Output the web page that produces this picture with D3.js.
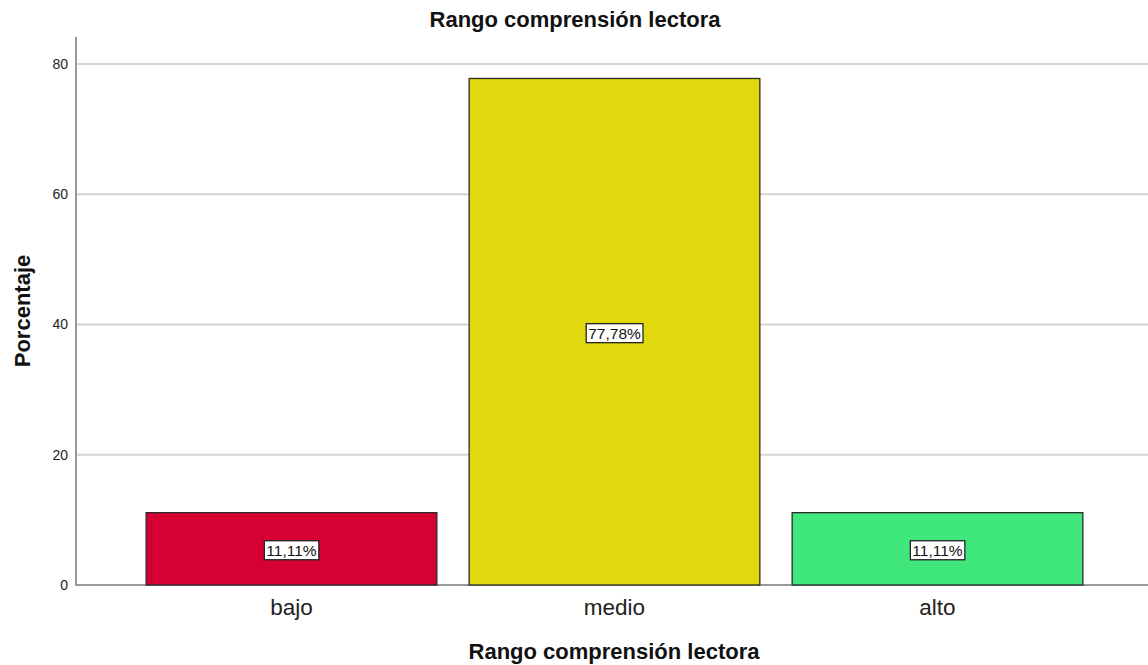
<!DOCTYPE html>
<html>
<head>
<meta charset="utf-8">
<script src="https://cdn.jsdelivr.net/npm/d3@7"></script>
<style>
  html, body { margin: 0; padding: 0; background: #fff; }
  svg { display: block; font-family: "Liberation Sans", Arial, sans-serif; }
</style>
</head>
<body>
<svg id="chart" width="1148" height="665"></svg>
<script>
// Percentage of students in each reading-comprehension range
const categories = ["bajo", "medio", "alto"];
const percentages = [11.11, 77.78, 11.11];
const barColors = ["#D70032", "#E1D80E", "#40E87C"];
const yTicks = [0, 20, 40, 60, 80];
const valueLabels = ["11,11%", "77,78%", "11,11%"];
const chartTitle = "Rango comprensión lectora";
const xTitle = "Rango comprensión lectora";
const yTitle = "Porcentaje";

const svg = d3.select("#chart");
const plot = { left: 76, right: 1148, top: 37, bottom: 585 };

const x = d3.scaleBand()
  .domain(categories)
  .range([130, 1099])
  .paddingInner(0.1)
  .paddingOuter(0.05);

const y = d3.scaleLinear()
  .domain([0, 84.15])
  .range([plot.bottom, plot.top]);

// Horizontal gridlines
svg.append("g")
  .selectAll("line")
  .data(yTicks.filter(d => d > 0))
  .join("line")
  .attr("x1", plot.left)
  .attr("x2", plot.right)
  .attr("y1", d => y(d))
  .attr("y2", d => y(d))
  .attr("stroke", "#d4d4d4")
  .attr("stroke-width", 2);

// Y axis
const yAxis = svg.append("g")
  .attr("transform", `translate(${plot.left},0)`)
  .call(d3.axisLeft(y).tickValues(yTicks).tickSize(0).tickPadding(8));
yAxis.select(".domain").remove();
yAxis.selectAll("text")
  .attr("font-size", 14)
  .attr("fill", "#222")
  .attr("font-family", "Liberation Sans, Arial, sans-serif");

// Axis lines
svg.append("line")
  .attr("x1", plot.left).attr("x2", plot.left)
  .attr("y1", plot.top).attr("y2", plot.bottom + 1)
  .attr("stroke", "#9a9a9a").attr("stroke-width", 2);
svg.append("line")
  .attr("x1", plot.left).attr("x2", plot.right)
  .attr("y1", plot.bottom).attr("y2", plot.bottom)
  .attr("stroke", "#9a9a9a").attr("stroke-width", 2);

// Bars
svg.append("g")
  .selectAll("rect")
  .data(categories)
  .join("rect")
  .attr("x", d => x(d))
  .attr("width", x.bandwidth())
  .attr("y", (d, i) => y(percentages[i]))
  .attr("height", (d, i) => y(0) - y(percentages[i]))
  .attr("fill", (d, i) => barColors[i])
  .attr("stroke", "#2a2a2a")
  .attr("stroke-width", 1.3);

// Value labels in boxes at bar mid-height
const lbl = svg.append("g")
  .selectAll("g")
  .data(categories)
  .join("g")
  .attr("transform", (d, i) =>
    `translate(${x(d) + x.bandwidth() / 2},${y(percentages[i] / 2) + 1.5})`);
lbl.append("text")
  .attr("text-anchor", "middle")
  .attr("dy", "0.35em")
  .attr("font-size", 15.5)
  .attr("fill", "#111")
  .text((d, i) => valueLabels[i])
  .each(function () {
    const b = this.getBBox();
    d3.select(this.parentNode).insert("rect", "text")
      .attr("x", b.x - 2)
      .attr("y", b.y - 1)
      .attr("width", b.width + 4)
      .attr("height", b.height + 2)
      .attr("fill", "#fff")
      .attr("stroke", "#222")
      .attr("stroke-width", 1.3);
  });

// Category labels
svg.append("g")
  .selectAll("text")
  .data(categories)
  .join("text")
  .attr("x", d => x(d) + x.bandwidth() / 2)
  .attr("y", 615)
  .attr("text-anchor", "middle")
  .attr("font-size", 22.5)
  .attr("fill", "#222")
  .text(d => d);

// Titles
svg.append("text")
  .attr("x", 575).attr("y", 27)
  .attr("text-anchor", "middle")
  .attr("font-size", 22).attr("font-weight", "bold")
  .attr("fill", "#111")
  .text(chartTitle);

svg.append("text")
  .attr("x", 614).attr("y", 659)
  .attr("text-anchor", "middle")
  .attr("font-size", 22).attr("font-weight", "bold")
  .attr("fill", "#111")
  .text(xTitle);

svg.append("text")
  .attr("transform", "translate(30,311) rotate(-90)")
  .attr("text-anchor", "middle")
  .attr("font-size", 22).attr("font-weight", "bold")
  .attr("fill", "#111")
  .text(yTitle);
</script>
</body>
</html>
